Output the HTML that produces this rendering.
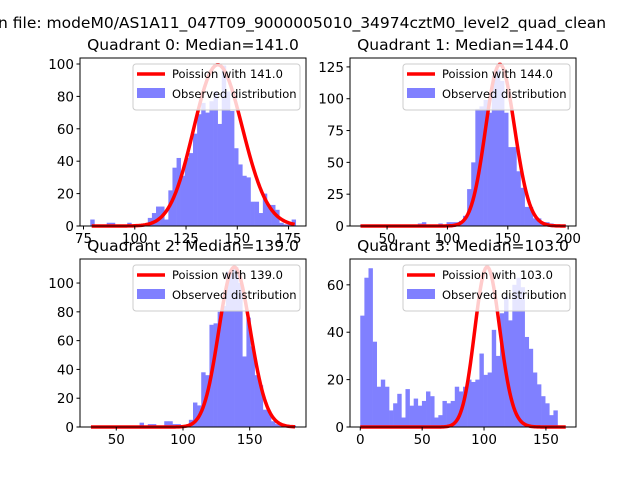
<!DOCTYPE html>
<html><head><meta charset="utf-8">
<style>
html,body{margin:0;padding:0;background:#fff;}
svg{display:block;font-family:"DejaVu Sans","Liberation Sans",sans-serif;}
</style></head>
<body>
<svg id="chart" width="640" height="480" viewBox="0 0 640 480">
<text x="-2" y="28" font-size="15.5" fill="#000">n file: modeM0/AS1A11_047T09_9000005010_34974cztM0_level2_quad_clean</text>
</svg>
<script>
// ---- data ----
const q0Counts=[4,0,0,0,2,2,0,0,0,2,0,0,0,0,5,8,12,12,4,22,36,42,31,42,45,57,69,76,70,77,83,63,99,83,71,48,38,31,30,15,15,8,20,13,13,10,2,1,1,4];
const q1Counts=[1,0,0,0,0,0,0,0,0,0,0,0,0,0,2,3,1,1,1,2,1,3,3,3,4,8,29,50,92,94,99,89,118,123,114,89,62,62,43,30,15,15,6,6,3,3,2,1,1,1];
const q2Counts=[0,0,0,0,0,0,0,0,0,0,0,0,3,0,2,2,0,0,4,4,2,2,0,1,5,17,15,38,36,71,72,80,84,108,110,111,100,49,76,56,36,29,12,11,4,2,1,1,0,1];
const q3Counts=[47,63,67,36,17,20,17,7,10,14,4,16,9,12,9,11,15,13,4,5,11,10,11,17,15,17,20,19,20,31,22,23,41,30,48,55,45,60,63,59,38,33,23,18,13,10,5,7,0,0];
const binRanges=[[78.3,178.5],[27.8,198],[30.5,184.5],[0,166]];
const medians=[141.0,144.0,139.0,103.0];
const peakHeights=[99.5,127,111,67.5];
const xTicks=[[75,100,125,150,175],[50,100,150,200],[50,100,150],[0,50,100,150]];
const yTicks=[[0,20,40,60,80,100],[0,25,50,75,100,125],[0,20,40,60,80,100],[0,20,40,60]];
const yMax=[103.7,132,116.7,70.9];

const NS="http://www.w3.org/2000/svg";
const svg=document.getElementById('chart');
function mk(tag,attrs,parent){const e=document.createElementNS(NS,tag);for(const k in attrs)e.setAttribute(k,attrs[k]);(parent||svg).appendChild(e);return e;}
function lgamma(z){return (z-0.5)*Math.log(z)-z+0.5*Math.log(2*Math.PI)+1/(12*z)-1/(360*z*z*z);}
function logPmf(k,l){return k*Math.log(l)-l-lgamma(k+1);}

const boxes=[[80,58,306,226],[350,58,576,226],[80,259,306,427],[350,259,576,427]];
const allCounts=[q0Counts,q1Counts,q2Counts,q3Counts];
for(let q=0;q<4;q++){
 const [L,T,R,B]=boxes[q];
 const [d0,d1]=binRanges[q];
 const pad=(d1-d0)*0.05;
 const xmin=d0-pad,xmax=d1+pad;
 const X=v=>L+(v-xmin)/(xmax-xmin)*(R-L);
 const Y=v=>B-v/yMax[q]*(B-T);
 const g=mk('g',{});
 
 
 const t=mk('text',{x:(L+R)/2,y:T-8,'font-size':15.5,'text-anchor':'middle'},g);
 t.textContent='Quadrant '+q+': Median='+medians[q].toFixed(1);
 
 
 // bars
 const counts=allCounts[q];
 const w=(d1-d0)/counts.length;
 counts.forEach((c,i)=>{
  if(c<=0)return;
  const x0=X(d0+i*w),x1=X(d0+(i+1)*w);
  const r=mk('rect',{x:x0,y:Y(c),width:x1-x0+0.3,height:B-Y(c),fill:'#8080ff'},g);
  
  
 });
 // poisson curve
 const lam=medians[q];
 const lp=logPmf(Math.round(lam),lam);
 let pts=[];
 for(let x=Math.ceil(d0);x<=Math.floor(d1);x++){
  const v=peakHeights[q]*Math.exp(logPmf(x,lam)-lp);
  pts.push(X(x).toFixed(2)+','+Y(v).toFixed(2));
 }
 const pl=mk('polyline',{points:pts.join(' '),fill:'none',stroke:'#ff0000','stroke-width':3.5,'stroke-linejoin':'round'},g);
 
 
 const fr=mk('rect',{x:L,y:T,width:R-L,height:B-T,fill:'none',stroke:'#000','stroke-width':1},g);
 
 
 xTicks[q].forEach(v=>{
  mk('line',{x1:X(v),x2:X(v),y1:B,y2:B+3.5,stroke:'#000'},g);
  const tx=mk('text',{x:X(v),y:B+17,'font-size':13.5,'text-anchor':'middle'},g);
  tx.textContent=v;
  
  
 });
 yTicks[q].forEach(v=>{
  mk('line',{x1:L-3.5,x2:L,y1:Y(v),y2:Y(v),stroke:'#000'},g);
  const ty=mk('text',{x:L-6,y:Y(v)+5,'font-size':13.5,'text-anchor':'end'},g);
  ty.textContent=v;
  
  
 });
 const lg=mk('g',{},g);
 
 
 mk('rect',{x:R-173,y:T+6,width:167,height:46,rx:3,fill:'#fff','fill-opacity':0.8,stroke:'#ccc'},lg);
 mk('line',{x1:R-169,x2:R-141,y1:T+16,y2:T+16,stroke:'#ff0000','stroke-width':3.5},lg);
 const l1=mk('text',{x:R-134,y:T+20,'font-size':11.5},lg);
 l1.textContent='Poission with '+medians[q].toFixed(1);
 
 
 mk('rect',{x:R-169,y:T+30,width:28,height:10,fill:'#8080ff'},lg);
 const l2=mk('text',{x:R-134,y:T+40,'font-size':11.5},lg);
 l2.textContent='Observed distribution';
 
 
}
</script>
</body></html>
